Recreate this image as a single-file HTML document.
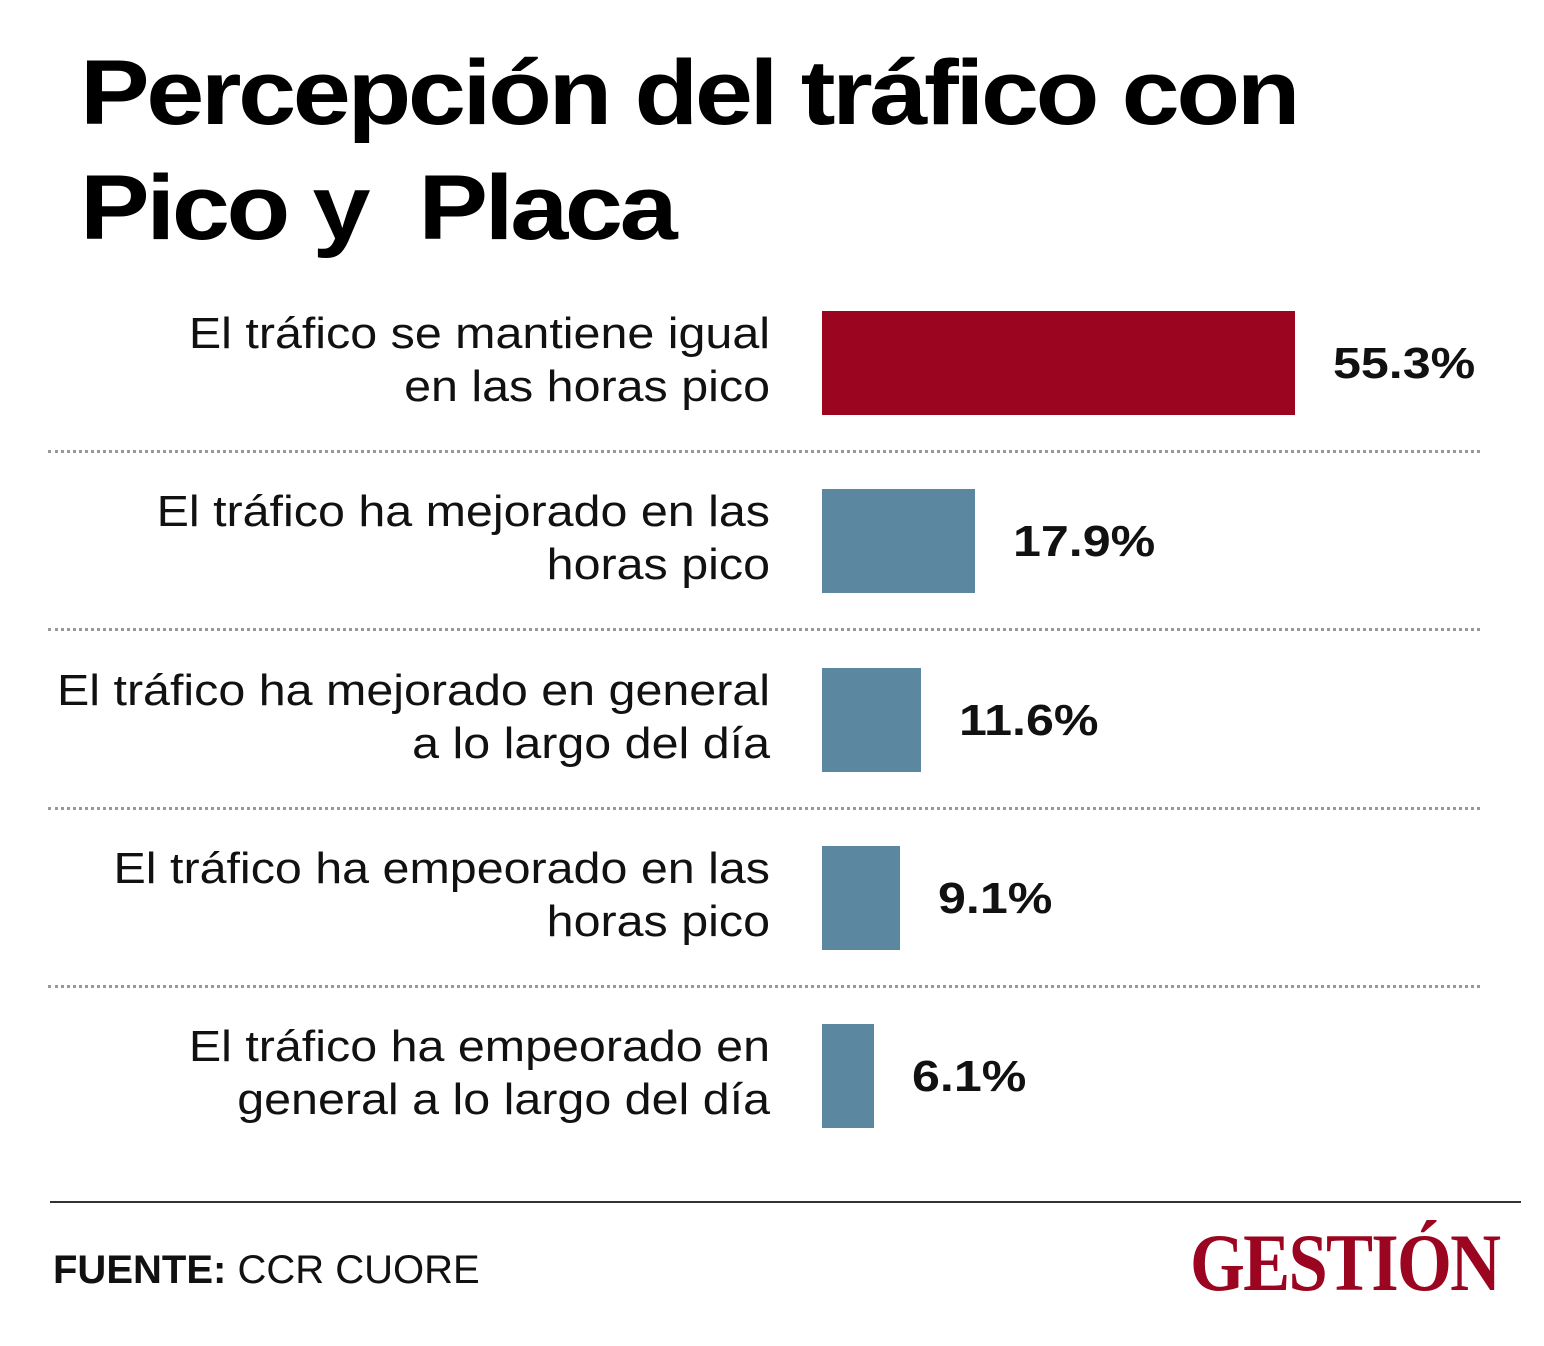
<!DOCTYPE html>
<html><head><meta charset="utf-8"><style>
body{margin:0;background:#fff;}
#c{position:relative;width:1544px;height:1346px;overflow:hidden;font-family:"Liberation Sans",sans-serif;}
.t{position:absolute;left:80px;font-weight:bold;font-size:92px;letter-spacing:-3px;color:#000;line-height:1;transform:scaleX(1.135);transform-origin:left top;white-space:nowrap;}
.lab{position:absolute;right:774px;text-align:right;font-size:44px;line-height:53px;color:#111;width:760px;transform:scaleX(1.1);transform-origin:right top;}
.bar{position:absolute;left:822px;height:104px;}
.val{position:absolute;font-weight:bold;font-size:44px;color:#111;line-height:1;transform:scaleX(1.14);transform-origin:left top;}
.dot{position:absolute;left:48px;width:1432px;height:0;border-top:3px dotted #999;}
</style></head><body>
<div id="c">
<div class="t" style="top:47px">Percepción del tráfico con</div>
<div class="t" style="top:162px">Pico y&nbsp; Placa</div>
<div id="rows"></div>
<div style="position:absolute;left:50px;top:1201px;width:1471px;border-top:2px solid #333"></div>
<div style="position:absolute;left:53px;top:1248px;font-size:40px;color:#111"><b>FUENTE:</b> CCR CUORE</div>
<div style="position:absolute;left:1190px;top:1222px;font-family:'Liberation Serif',serif;font-weight:bold;font-size:82px;color:#9b0520;letter-spacing:-2px;line-height:1;transform:scaleX(0.86);transform-origin:left top;white-space:nowrap">GESTIÓN</div>
</div>
<script>
const categories=["El tráfico se mantiene igual<br>en las horas pico","El tráfico ha mejorado en las<br>horas pico","El tráfico ha mejorado en general<br>a lo largo del día","El tráfico ha empeorado en las<br>horas pico","El tráfico ha empeorado en<br>general a lo largo del día"];
const values=[55.3,17.9,11.6,9.1,6.1];
const valueLabels=["55.3%","17.9%","11.6%","9.1%","6.1%"];
const colors=["#9b0520","#5b88a0","#5b88a0","#5b88a0","#5b88a0"];
const scale=v=>v*8.55;
const rows=document.getElementById('rows');
values.forEach((v,i)=>{
  const top=311+i*178.3;
  const l=document.createElement('div');l.className='lab';l.style.top=(top-4)+'px';l.innerHTML=categories[i];
  
  
  rows.appendChild(l);
  const b=document.createElement('div');b.className='bar';b.style.top=top+'px';b.style.width=scale(v)+'px';b.style.background=colors[i];
  
  
  rows.appendChild(b);
  const t=document.createElement('div');t.className='val';t.style.top=(top+31)+'px';t.style.left=(822+scale(v)+38)+'px';t.textContent=valueLabels[i];
  
  
  rows.appendChild(t);
  if(i<values.length-1){const d=document.createElement('div');d.className='dot';d.style.top=(top+139)+'px';
  
  
  rows.appendChild(d);}
});
</script>
</body></html>
